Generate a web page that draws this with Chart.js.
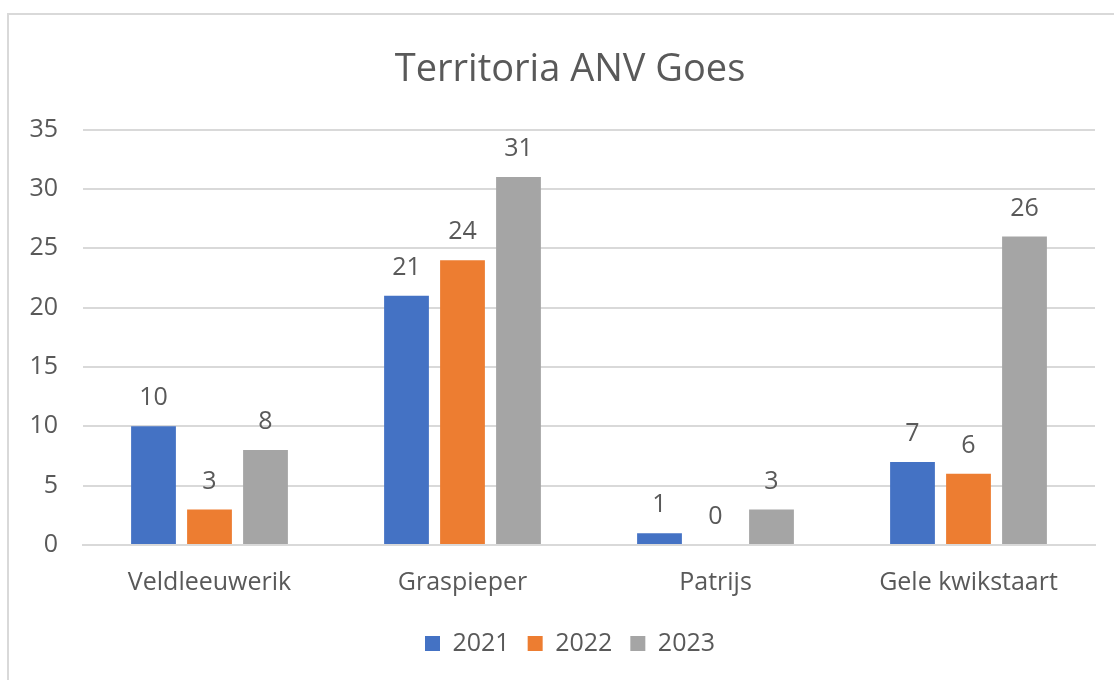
<!DOCTYPE html>
<html>
<head>
<meta charset="utf-8">
<script src="https://cdn.jsdelivr.net/npm/chart.js@4.4.1/dist/chart.umd.min.js"></script>
<style>
  html, body { margin: 0; padding: 0; background: #fff; overflow: hidden; }
  #wrap { position: relative; width: 1114px; height: 680px; overflow: hidden; }
  #frame { position: absolute; left: 7px; top: 13px; width: 1200px; height: 800px;
           border: 2px solid #d9d9d9; box-sizing: border-box; }
  canvas { position: absolute; left: 0; top: 0; }
</style>
</head>
<body>
<div id="wrap">
  <div id="frame"></div>
  <!-- the original chart frame runs past the right edge, so the canvas does too -->
  <canvas id="chart" width="1140" height="680"></canvas>
</div>
<script>
  // chart data
  var categories = ["Veldleeuwerik", "Graspieper", "Patrijs", "Gele kwikstaart"];
  var years = ["2021", "2022", "2023"];
  var values2021 = [10, 21, 1, 7];
  var values2022 = [3, 24, 0, 6];
  var values2023 = [8, 31, 3, 26];
  var yTicks = [0, 5, 10, 15, 20, 25, 30, 35];

  var colors = ["#4472c4", "#ed7d31", "#a5a5a5"];
  var textColor = "#595959";
  var fontFamily = "'Open Sans', 'Noto Sans', sans-serif";

  // value labels above the bars
  var barLabels = {
      id: "barLabels",
      afterDatasetsDraw: function(chart) {
          var ctx = chart.ctx;
          ctx.save();
          ctx.font = "25px " + fontFamily;
          ctx.fillStyle = textColor;
          ctx.textAlign = "center";
          ctx.textBaseline = "middle";
          chart.data.datasets.forEach(function(ds, i) {
              var meta = chart.getDatasetMeta(i);
              meta.data.forEach(function(bar, j) {
                  ctx.fillText(String(ds.data[j]), bar.x, bar.y - 28);
              });
          });
          ctx.restore();
      }
  };

  var seriesValues = [values2021, values2022, values2023];
  var datasets = [];
  for (var i = 0; i < years.length; i++) {
      datasets.push({
          label: years[i],
          data: seriesValues[i],
          backgroundColor: colors[i],
          borderWidth: 0,
          categoryPercentage: 0.664,
          barPercentage: 0.8
      });
  }

  var chart = new Chart(document.getElementById("chart"), {
      type: "bar",
      data: { labels: categories, datasets: datasets },
      plugins: [barLabels],
      options: {
          responsive: false,
          animation: false,
          layout: { padding: { left: 0, right: 0, top: 0, bottom: 14 } },
          plugins: {
              tooltip: { enabled: false },
              title: {
                  display: true,
                  text: "Territoria ANV Goes",
                  color: textColor,
                  font: { family: fontFamily, size: 38, weight: "normal" },
                  padding: { top: 47, bottom: 37 }
              },
              legend: {
                  position: "bottom",
                  labels: {
                      color: textColor,
                      font: { family: fontFamily, size: 25 },
                      boxWidth: 15,
                      boxHeight: 15,
                      padding: 18
                  }
              }
          },
          scales: {
              x: {
                  grid: { display: false },
                  border: { display: true, color: "#d9d9d9", width: 2 },
                  ticks: { color: textColor, font: { family: fontFamily, size: 25 }, padding: 15 }
              },
              y: {
                  min: 0,
                  max: 35,
                  afterBuildTicks: function(scale) {
                      scale.ticks = yTicks.map(function(v) { return { value: v }; });
                  },
                  afterFit: function(scale) { scale.width = 83; },
                  grid: { color: "#d9d9d9", lineWidth: 2, drawTicks: false },
                  border: { display: false },
                  ticks: { color: textColor, font: { family: fontFamily, size: 25 }, padding: 25 }
              },
              // empty right-hand spacer so the plot ends where the original does
              spacer: {
                  position: "right",
                  afterFit: function(scale) { scale.width = 45; },
                  grid: { display: false },
                  border: { display: false },
                  ticks: { display: false }
              }
          }
      }
  });
</script>
</body>
</html>
